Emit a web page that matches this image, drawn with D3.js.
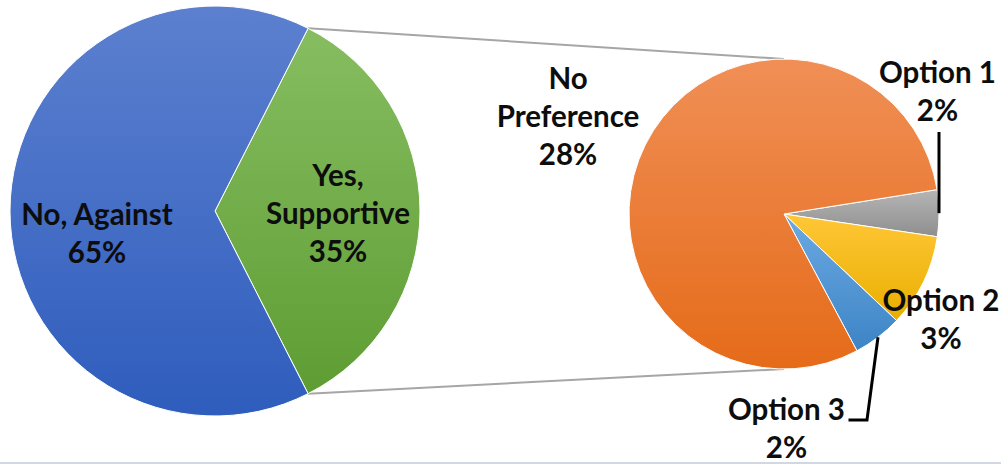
<!DOCTYPE html>
<html>
<head>
<meta charset="utf-8">
<script src="https://cdn.jsdelivr.net/npm/d3@7"></script>
<style>
  html, body { margin: 0; padding: 0; background: #fff; }
  svg { display: block; }
  text { font-family: Lato, "Open Sans", sans-serif; font-weight: 700; fill: #0d0d0d; }
</style>
</head>
<body>
<svg id="chart" width="1001" height="465"></svg>
<script>
// Main split of responses
const primaryNames = ["Yes, Supportive", "No, Against"];
const primaryLines = [["Yes,", "Supportive"], ["No, Against"]];
const primaryValues = [35, 65];

// Breakdown of the "Yes, Supportive" share
const secondaryNames = ["Option 1", "Option 2", "Option 3", "No Preference"];
const secondaryLines = [["Option 1"], ["Option 2"], ["Option 3"], ["No", "Preference"]];
const secondaryValues = [1.7, 3.4, 1.8, 28.1];

const svg = d3.select("#chart");
const W = 1001, H = 465;
const deg = Math.PI / 180;
const pct = v => d3.format(".0%")(v / 100);

// Gradient fills (light at top, darker at bottom)
const palette = {
  "Yes, Supportive": ["#86bd61", "#5e9d33"],
  "No, Against": ["#5c80cf", "#2f5dbd"],
  "Option 1": ["#b5b5b5", "#8e8e8e"],
  "Option 2": ["#ffc737", "#e9ae00"],
  "Option 3": ["#6caae2", "#3d84c6"],
  "No Preference": ["#f08f56", "#e56b19"]
};
const defs = svg.append("defs");
Object.entries(palette).forEach(([name, [c0, c1]], i) => {
  const g = defs.append("linearGradient")
    .attr("id", "grad" + i)
    .attr("x1", 0).attr("y1", 0).attr("x2", 0).attr("y2", 1);
  g.append("stop").attr("offset", "0%").attr("stop-color", c0);
  g.append("stop").attr("offset", "100%").attr("stop-color", c1);
  palette[name].id = "grad" + i;
});
const fillOf = name => `url(#${palette[name].id})`;

// Geometry
const p1 = { cx: 215, cy: 211, r: 205 };
const p2 = { cx: 784, cy: 214, r: 155 };
const lineGap = 38;

// Primary pie: the supportive wedge is centred on the right-hand side
const yesSpan = primaryValues[0] / d3.sum(primaryValues) * 2 * Math.PI;
const pie1 = d3.pie().sort(null).value(d => d)
  .startAngle(Math.PI / 2 - yesSpan / 2)
  .endAngle(Math.PI / 2 - yesSpan / 2 + 2 * Math.PI);
const arcs1 = pie1(primaryValues);
const arc1 = d3.arc().innerRadius(0).outerRadius(p1.r);

// Secondary pie: Option 1 centred on the right-hand side
const secTotal = d3.sum(secondaryValues);
const opt1Span = secondaryValues[0] / secTotal * 2 * Math.PI;
const pie2 = d3.pie().sort(null).value(d => d)
  .startAngle(Math.PI / 2 - opt1Span / 2 - 0.3 * deg)
  .endAngle(Math.PI / 2 - opt1Span / 2 - 0.3 * deg + 2 * Math.PI);
const arcs2 = pie2(secondaryValues);
const arc2 = d3.arc().innerRadius(0).outerRadius(p2.r);

const polar = (p, a, r) => [p.cx + r * Math.sin(a), p.cy - r * Math.cos(a)];

// Connector lines from the supportive wedge to the top and bottom of the breakdown pie
const yesArc = arcs1[0];
const topStart = polar(p1, yesArc.startAngle, p1.r);
const botStart = polar(p1, yesArc.endAngle, p1.r);
svg.append("g").selectAll("line")
  .data([[topStart, [p2.cx, p2.cy - p2.r]], [botStart, [p2.cx, p2.cy + p2.r]]])
  .join("line")
  .attr("x1", d => d[0][0]).attr("y1", d => d[0][1])
  .attr("x2", d => d[1][0]).attr("y2", d => d[1][1])
  .attr("stroke", "#a6a6a6").attr("stroke-width", 2);

// Slices
svg.append("g").attr("transform", `translate(${p1.cx},${p1.cy})`)
  .selectAll("path").data(arcs1).join("path")
  .attr("d", arc1)
  .attr("fill", (d, i) => fillOf(primaryNames[i]))
  .attr("stroke", "#fff").attr("stroke-width", 1);

svg.append("g").attr("transform", `translate(${p2.cx},${p2.cy})`)
  .selectAll("path").data(arcs2).join("path")
  .attr("d", arc2)
  .attr("fill", (d, i) => fillOf(secondaryNames[i]))
  .attr("stroke", "#fff").attr("stroke-width", 1);

// Labels: anchor = pie centre + offset, first-line baseline
const primaryOffsets = [[123, -25], [-118, 14]];
const secondaryOffsets = [[153.5, -131], [157, 97], [2.5, 206], [-216, -125]];
const fontSize = 29.5;

function drawLabel(x, y, lines) {
  const t = svg.append("text")
    .attr("text-anchor", "middle")
    .attr("font-size", fontSize);
  lines.forEach((ln, k) => {
    t.append("tspan").attr("x", x).attr("y", y + k * lineGap).text(ln);
  });
}

primaryValues.forEach((v, i) => {
  const [dx, dy] = primaryOffsets[i];
  drawLabel(p1.cx + dx, p1.cy + dy, [...primaryLines[i], pct(v)]);
});
secondaryValues.forEach((v, i) => {
  const [dx, dy] = secondaryOffsets[i];
  drawLabel(p2.cx + dx, p2.cy + dy, [...secondaryLines[i], pct(v)]);
});

// Leader lines for the thin slices
const mid = a => (a.startAngle + a.endAngle) / 2;
const leader = d3.line();
const o1 = polar(p2, mid(arcs2[0]), p2.r);
const o1Top = p2.cy + secondaryOffsets[0][1] + lineGap + 11;
const o3 = polar(p2, mid(arcs2[2]), p2.r);
const o3Base = p2.cy + secondaryOffsets[2][1];
const o3TextRight = p2.cx + secondaryOffsets[2][0] + 62;
svg.append("g").selectAll("path")
  .data([
    [[o1[0], o1[1]], [o1[0], o1Top]],
    [[o3[0], o3[1]], [o3[0] - 11, o3Base], [o3TextRight, o3Base]]
  ])
  .join("path")
  .attr("d", leader)
  .attr("fill", "none").attr("stroke", "#000").attr("stroke-width", 3);

// Thin frame line along the bottom edge
svg.append("rect").attr("x", 0).attr("y", H - 3).attr("width", W).attr("height", 2)
  .attr("fill", "#d2d8e2");
</script>
</body>
</html>
